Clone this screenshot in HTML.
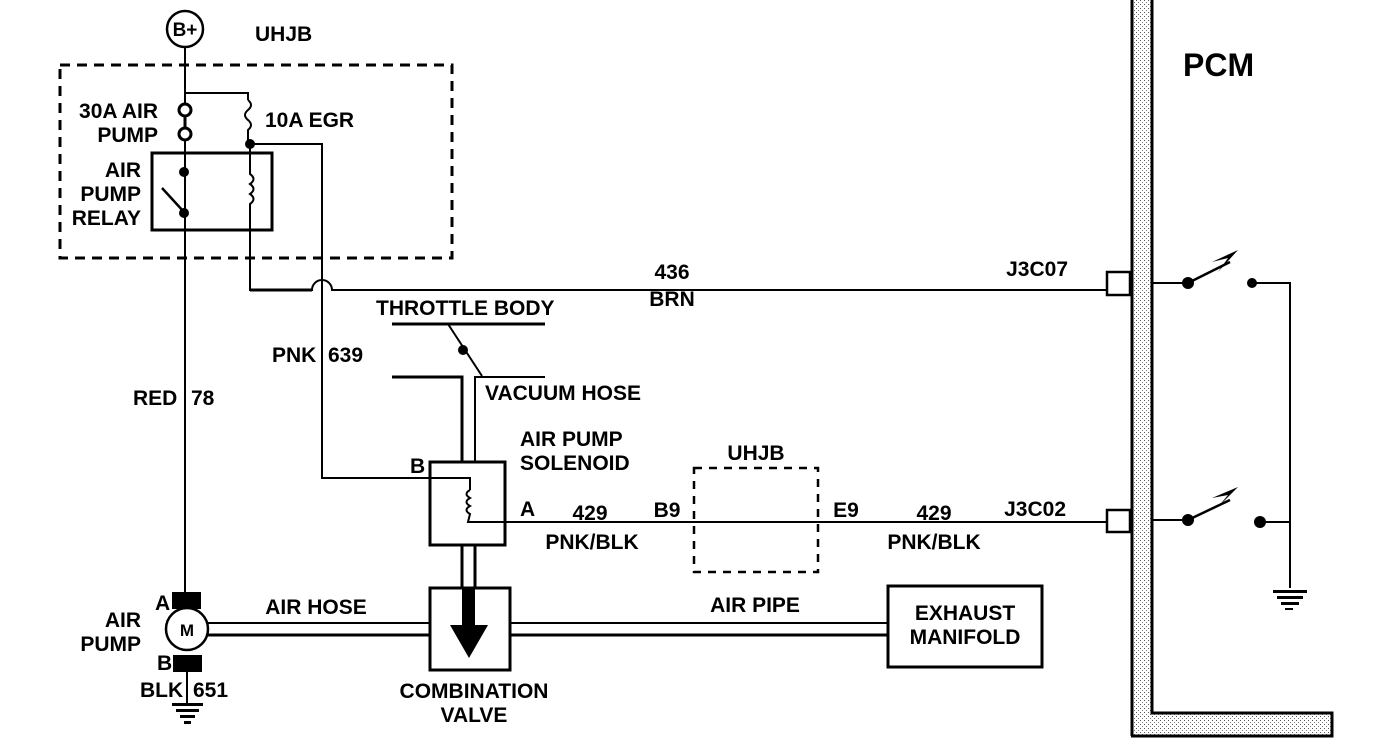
<!DOCTYPE html>
<html><head><style>
body{margin:0;background:#fff}
svg text{font-family:"Liberation Sans",sans-serif;font-weight:bold;font-size:21px;fill:#000}
.e{text-anchor:end}.m{text-anchor:middle}
</style></head><body>
<svg width="1376" height="748" viewBox="0 0 1376 748" xmlns="http://www.w3.org/2000/svg">
<defs><pattern id="st" width="4" height="4" patternUnits="userSpaceOnUse"><rect width="4" height="4" fill="#fff"/><rect width="1" height="1" fill="#555"/><rect x="2" y="2" width="1" height="1" fill="#777"/></pattern></defs>
<g stroke="#000" fill="none" stroke-width="2">
<circle cx="185" cy="29" r="18" stroke-width="2.5"/>
<rect x="60" y="65" width="392" height="193" stroke-dasharray="10,7" stroke-width="3"/>
<line x1="185" y1="47" x2="185" y2="592"/>
<polyline points="185,93 248,93 248,100"/>
<path d="M248,100 q6,5 0,10 q-6,5 0,10 q6,5 0,10 v14"/>
<circle cx="185" cy="110" r="6" fill="#fff" stroke-width="3"/>
<circle cx="185" cy="134" r="6" fill="#fff" stroke-width="3"/>
<path d="M185,116 L185,128" stroke-width="3"/>
<rect x="152" y="153" width="120" height="77" stroke-width="3" fill="none"/>
<line x1="162" y1="188" x2="184" y2="212" stroke-width="2.5"/>
<polyline points="250,144 322,144 322,478 470,478 470,490"/>
<path d="M250,144 v30 q7,5 0,10 q7,5 0,10 q7,5 0,10 v86 h62 a10,10 0 0 1 20,0 h775" stroke-width="2"/>
<line x1="250" y1="290" x2="312" y2="290" stroke-width="3"/>
<rect x="1107" y="272" width="23" height="23" stroke-width="2.5" fill="#fff"/>
<rect x="1107" y="510" width="23" height="22" stroke-width="2.5" fill="#fff"/>
<line x1="392" y1="324" x2="545" y2="324" stroke-width="3"/>
<line x1="448" y1="324" x2="482" y2="376"/>
<polyline points="392,377 462,377 462,462" stroke-width="3"/>
<polyline points="545,377 475,377 475,462"/>
<rect x="430" y="462" width="75" height="83" stroke-width="3"/>
<path d="M470,490 q-7,4 0,8 q-7,4 0,8 q-7,4 0,8 l-2,8 h640"/>
<rect x="694" y="468" width="124" height="104" stroke-dasharray="8,7" stroke-width="2.5"/>
<line x1="462" y1="545" x2="462" y2="588" stroke-width="3"/>
<line x1="475" y1="545" x2="475" y2="588" stroke-width="3"/>
<rect x="430" y="588" width="80" height="82" stroke-width="3"/>
<line x1="205" y1="623" x2="430" y2="623"/><line x1="205" y1="635" x2="430" y2="635" stroke-width="3"/>
<line x1="510" y1="623" x2="888" y2="623"/><line x1="510" y1="635" x2="888" y2="635" stroke-width="3"/>
<rect x="888" y="586" width="154" height="81" stroke-width="3"/>
<circle cx="187" cy="629" r="21" stroke-width="2.5" fill="#fff"/>
<line x1="187" y1="672" x2="187" y2="703"/>
<line x1="1152" y1="283" x2="1188" y2="283"/><line x1="1188" y1="283" x2="1230" y2="262" stroke-width="2.5"/>
<polyline points="1252,283 1290,283 1290,588"/>
<line x1="1152" y1="520" x2="1188" y2="520"/><line x1="1188" y1="520" x2="1230" y2="500" stroke-width="2.5"/>
<line x1="1260" y1="522" x2="1290" y2="522"/>
</g>
<rect x="1132" y="0" width="20" height="735" fill="url(#st)"/>
<rect x="1132" y="713" width="200" height="22" fill="url(#st)"/>
<g stroke="#000" fill="none" stroke-width="3">
<line x1="1132" y1="0" x2="1132" y2="736"/>
<polyline points="1152,0 1152,713 1332,713 1332,736 1131,736"/>
</g>
<g fill="#000">
<circle cx="184" cy="172" r="5"/><circle cx="184" cy="213" r="5"/><circle cx="250" cy="144" r="5"/>
<circle cx="463" cy="350" r="5"/>
<rect x="172" y="592" width="29" height="17"/><rect x="173" y="655" width="29" height="17"/>
<rect x="462" y="588" width="13" height="40"/><polygon points="450,625 488,625 469,658"/>
<circle cx="1188" cy="283" r="6"/><circle cx="1252" cy="283" r="5"/><polygon points="1238,250 1218,272 1228,258 1212,262"/>
<circle cx="1188" cy="520" r="6"/><circle cx="1260" cy="522" r="6"/><polygon points="1238,487 1218,507 1228,495 1212,498"/>
<rect x="172" y="703" width="31" height="3"/><rect x="176" y="709" width="23" height="3"/><rect x="180" y="715" width="15" height="3"/><rect x="184" y="721" width="7" height="3"/>
<rect x="1273" y="590" width="34" height="3"/><rect x="1277" y="596" width="26" height="3"/><rect x="1281" y="602" width="18" height="3"/><rect x="1285" y="608" width="8" height="2"/>
</g>
<text x="185" y="36" class="m" style="font-size:19px">B+</text>
<text x="255" y="41">UHJB</text>
<text x="158" y="118" class="e">30A AIR</text><text x="158" y="142" class="e">PUMP</text>
<text x="265" y="127">10A EGR</text>
<text x="141" y="177" class="e">AIR</text><text x="141" y="201" class="e">PUMP</text><text x="141" y="225" class="e">RELAY</text>
<text x="672" y="279" class="m">436</text><text x="672" y="306" class="m">BRN</text>
<text x="1068" y="276" class="e">J3C07</text>
<text x="1183" y="76" style="font-size:32px">PCM</text>
<text x="376" y="315">THROTTLE BODY</text>
<text x="272" y="362">PNK</text><text x="328" y="362">639</text>
<text x="133" y="405">RED</text><text x="191" y="405">78</text>
<text x="485" y="400">VACUUM HOSE</text>
<text x="520" y="446">AIR PUMP</text><text x="520" y="470">SOLENOID</text>
<text x="756" y="460" class="m">UHJB</text>
<text x="410" y="473">B</text>
<text x="520" y="516">A</text><text x="590" y="520" class="m">429</text><text x="667" y="517" class="m">B9</text>
<text x="592" y="549" class="m">PNK/BLK</text>
<text x="846" y="517" class="m">E9</text><text x="934" y="520" class="m">429</text><text x="934" y="549" class="m">PNK/BLK</text>
<text x="1066" y="516" class="e">J3C02</text>
<text x="155" y="610">A</text><text x="141" y="627" class="e">AIR</text><text x="141" y="651" class="e">PUMP</text><text x="157" y="670">B</text>
<text x="140" y="697">BLK</text><text x="193" y="697">651</text>
<text x="316" y="614" class="m">AIR HOSE</text><text x="755" y="612" class="m">AIR PIPE</text>
<text x="965" y="620" class="m">EXHAUST</text><text x="965" y="644" class="m">MANIFOLD</text>
<text x="474" y="698" class="m">COMBINATION</text><text x="474" y="722" class="m">VALVE</text>
<text x="187" y="636" class="m" style="font-size:17px">M</text>
</svg>
</body></html>
